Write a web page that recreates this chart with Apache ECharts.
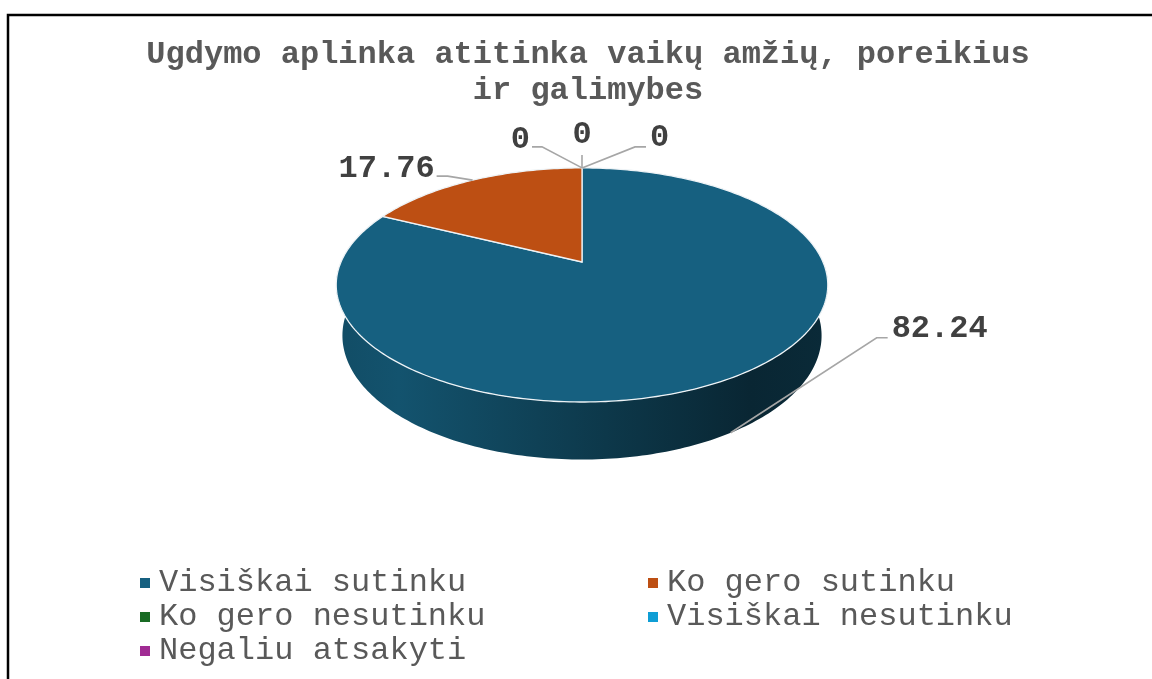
<!DOCTYPE html>
<html>
<head>
  <meta charset="utf-8" />
  <title>Ugdymo aplinka</title>
  <script src="https://cdn.jsdelivr.net/npm/echarts@6/dist/echarts.min.js"></script>
  <style>
    html, body { margin: 0; padding: 0; background: #fff; }
  </style>
</head>
<body>
<div id="main" style="width:1152px;height:679px;"></div>
<script type="text/javascript">
  // duomenys
  var categories = ['Visiškai sutinku', 'Ko gero sutinku', 'Ko gero nesutinku', 'Visiškai nesutinku', 'Negaliu atsakyti'];
  var values = [82.24, 17.76, 0, 0, 0];
  var colors = ['#166080', '#bd4f13', '#196b24', '#0f9ed5', '#a02b93'];

  // 3D pie geometry (perspective tilt, Excel-like)
  var P = { cx: 582, cy: 262, R: 241, sinT: 0.467, cosT: 0.884, q: 0.222, T: 0.24 };
  // label leader lines: anchor on top/bottom rim, elbow offset, tail length
  var labelLayout = [
    { rim: 'bottom', elbow: [146, -95], tail: 11 },
    { rim: 'top', elbow: [-25, -4], tail: -11 },
    { rim: 'top', elbow: [-40, -21], tail: -10 },
    { rim: 'top', elbow: [0, -13], tail: 0 },
    { rim: 'top', elbow: [53, -21], tail: 11 }
  ];

  var total = values.reduce(function (a, b) { return a + b; }, 0);
  var starts = [];
  var acc = 0;
  values.forEach(function (v) { starts.push(acc / total * 360); acc += v; });

  function shade(hex, f) {
    var n = parseInt(hex.slice(1), 16);
    var r = Math.round(((n >> 16) & 255) * f);
    var g = Math.round(((n >> 8) & 255) * f);
    var b = Math.round((n & 255) * f);
    return 'rgb(' + r + ',' + g + ',' + b + ')';
  }

  function proj(deg, Y) {
    var a = deg * Math.PI / 180;
    var X = Math.sin(a), Z = -Math.cos(a);
    var w = 1 - P.q * (Z * P.cosT + Y * P.sinT);
    return [P.cx + P.R * X / w, P.cy + P.R * (Z * P.sinT - Y * P.cosT) / w];
  }

  function arc(a0, a1, Y) {
    var pts = [];
    var n = Math.max(2, Math.ceil(a1 - a0));
    for (var i = 0; i <= n; i++) pts.push(proj(a0 + (a1 - a0) * i / n, Y));
    return pts;
  }

  function renderSlice(idx) {
    return function (params, api) {
      var a0 = starts[idx];
      var a1 = a0 + values[idx] / total * 360;
      var c = colors[idx];
      var children = [];
      // front wall
      var w0 = Math.max(a0, 90), w1 = Math.min(a1, 270);
      if (w1 > w0) {
        var top = arc(w0, w1, 0);
        var bot = arc(w0, w1, -P.T).reverse();
        children.push({
          type: 'polygon',
          shape: { points: top.concat(bot) },
          style: {
            fill: new echarts.graphic.LinearGradient(P.cx - P.R, 0, P.cx + P.R, 0, [
              { offset: 0, color: shade(c, 0.8) },
              { offset: 0.12, color: shade(c, 0.86) },
              { offset: 0.55, color: shade(c, 0.58) },
              { offset: 0.85, color: shade(c, 0.4) },
              { offset: 1, color: shade(c, 0.44) }
            ], true),
            stroke: null
          }
        });
      }
      // top face
      if (a1 > a0) {
        children.push({
          type: 'polygon',
          shape: { points: [[P.cx, P.cy]].concat(arc(a0, a1, 0)) },
          style: { fill: c, stroke: '#eef3f6', lineWidth: 1.3 }
        });
      }
      // label
      var L = labelLayout[idx];
      var mid = (a0 + a1) / 2;
      var anchor = proj(mid, L.rim === 'bottom' ? -P.T : 0);
      var elbow = [anchor[0] + L.elbow[0], anchor[1] + L.elbow[1]];
      var end = [elbow[0] + L.tail, elbow[1]];
      children.push({
        type: 'polyline',
        shape: { points: [anchor, elbow, end] },
        style: { stroke: '#a6a6a6', lineWidth: 1.6, fill: null }
      });
      var tx, ty, align;
      if (L.tail > 0) { tx = end[0] + 4; ty = end[1] - 9; align = 'left'; }
      else if (L.tail < 0) { tx = end[0] - 2; ty = end[1] - 7; align = 'right'; }
      else { tx = end[0]; ty = end[1] - 20; align = 'center'; }
      children.push({
        type: 'text',
        x: tx, y: ty,
        style: {
          text: String(values[idx]),
          fontFamily: 'Liberation Mono, monospace',
          fontWeight: 'bold',
          fontSize: 32,
          fill: '#404040',
          align: align,
          verticalAlign: 'middle'
        }
      });
      return { type: 'group', children: children };
    };
  }

  var myChart = echarts.init(document.getElementById('main'));

  var series = categories.map(function (name, i) {
    return {
      name: name,
      type: 'custom',
      coordinateSystem: 'none',
      itemStyle: { color: colors[i] },
      silent: true,
      animation: false,
      data: [[values[i], i]],
      renderItem: renderSlice(i)
    };
  });

  var legendText = {
    fontFamily: 'Liberation Mono, monospace',
    fontSize: 32,
    color: '#595959',
    lineHeight: 34,
    padding: [0, 0, 0, 4]
  };

  var option = {
    backgroundColor: '#ffffff',
    animation: false,
    title: {
      text: 'Ugdymo aplinka atitinka vaikų amžių, poreikius\nir galimybes',
      left: 583,
      top: 32,
      textAlign: 'center',
      textStyle: {
        fontFamily: 'Liberation Mono, monospace',
        fontWeight: 'bold',
        fontSize: 32,
        lineHeight: 36,
        color: '#595959'
      }
    },
    legend: [
      {
        data: [categories[0], categories[2], categories[4]],
        orient: 'vertical',
        left: 140,
        top: 566,
        padding: 0,
        itemGap: 0,
        itemWidth: 10,
        itemHeight: 10,
        icon: 'rect',
        selectedMode: false,
        textStyle: legendText
      },
      {
        data: [categories[1], categories[3]],
        orient: 'vertical',
        left: 648,
        top: 566,
        padding: 0,
        itemGap: 0,
        itemWidth: 10,
        itemHeight: 10,
        icon: 'rect',
        selectedMode: false,
        textStyle: legendText
      }
    ],
    graphic: [
      {
        type: 'rect',
        shape: { x: 8, y: 15, width: 1200, height: 720 },
        style: { fill: null, stroke: '#000', lineWidth: 2.5 },
        silent: true
      }
    ],
    series: series
  };
  myChart.setOption(option);
</script>
</body>
</html>
